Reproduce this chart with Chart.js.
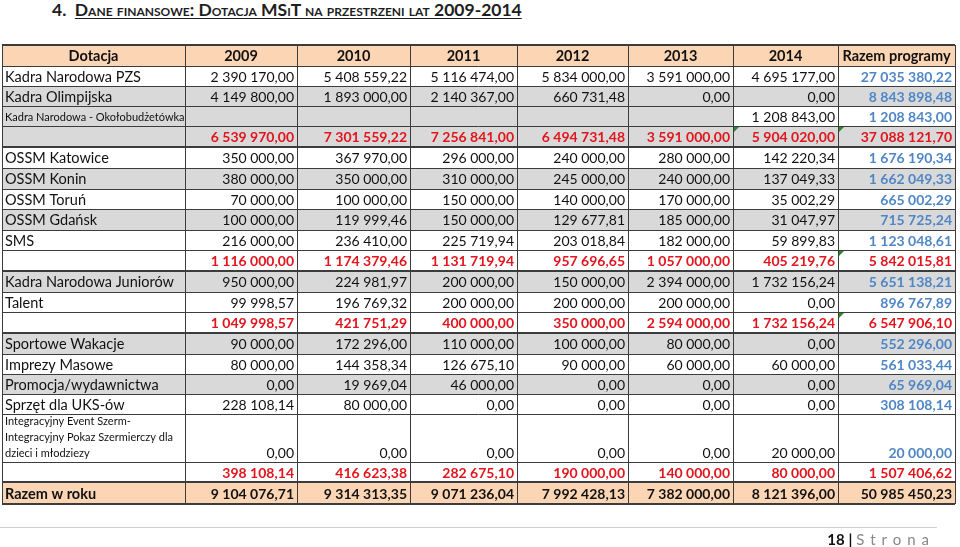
<!DOCTYPE html>
<html lang="pl">
<head>
<meta charset="utf-8">
<script src="https://cdn.jsdelivr.net/npm/chart.js@4.4.1/dist/chart.umd.min.js"></script>
<style>
  html, body { margin: 0; padding: 0; background: #fff; }
  #wrap { position: relative; width: 960px; height: 547px; overflow: hidden; }
  #tableChart { position: absolute; left: 0; top: 0; }
  #title { position: absolute; left: 52px; top: -1px; font: bold 17.5px Lato, sans-serif; color: #1e1e1e; white-space: nowrap; }
  #title .t { font-variant: small-caps; text-decoration: underline; text-underline-offset: 2px; }
  #footer { position: absolute; left: 0; top: 527px; width: 937px; border-top: 1px solid #d0d0d0; }
  #footer .txt { position: absolute; right: 2px; top: 2px; font: 15px Lato, sans-serif; color: #888; white-space: nowrap; }
  #footer b { color: #111; }
  #footer .bar { color: #111; font-weight: bold; }
  #footer .s { letter-spacing: 6px; }
</style>
</head>
<body>
<div id="wrap">
  <div id="title">4.&nbsp;&nbsp;<span class="t">Dane finansowe: Dotacja MSiT na przestrzeni lat 2009-2014</span></div>
  <canvas id="tableChart" width="960" height="547"></canvas>
  <div id="footer"><div class="txt"><b>18</b> <span class="bar">|</span> <span class="s">Strona</span></div></div>
</div>
<script>
// table data
const columnHeaders = ['Dotacja', '2009', '2010', '2011', '2012', '2013', '2014', 'Razem programy'];

const rowLabels = [
  'Kadra Narodowa PZS', 'Kadra Olimpijska', 'Kadra Narodowa - Okołobudżetówka', '',
  'OSSM Katowice', 'OSSM Konin', 'OSSM Toruń', 'OSSM Gdańsk', 'SMS', '',
  'Kadra Narodowa Juniorów', 'Talent', '',
  'Sportowe Wakacje', 'Imprezy Masowe', 'Promocja/wydawnictwa', 'Sprzęt dla UKS-ów',
  'Integracyjny Event Szerm-\nIntegracyjny Pokaz Szermierczy dla\ndzieci i młodziezy', '',
  'Razem w roku'
];

const y2009 = [2390170.00, 4149800.00, null, 6539970.00, 350000.00, 380000.00, 70000.00, 100000.00, 216000.00, 1116000.00,
  950000.00, 99998.57, 1049998.57, 90000.00, 80000.00, 0, 228108.14, 0, 398108.14, 9104076.71];
const y2010 = [5408559.22, 1893000.00, null, 7301559.22, 367970.00, 350000.00, 100000.00, 119999.46, 236410.00, 1174379.46,
  224981.97, 196769.32, 421751.29, 172296.00, 144358.34, 19969.04, 80000.00, 0, 416623.38, 9314313.35];
const y2011 = [5116474.00, 2140367.00, null, 7256841.00, 296000.00, 310000.00, 150000.00, 150000.00, 225719.94, 1131719.94,
  200000.00, 200000.00, 400000.00, 110000.00, 126675.10, 46000.00, 0, 0, 282675.10, 9071236.04];
const y2012 = [5834000.00, 660731.48, null, 6494731.48, 240000.00, 245000.00, 140000.00, 129677.81, 203018.84, 957696.65,
  150000.00, 200000.00, 350000.00, 100000.00, 90000.00, 0, 0, 0, 190000.00, 7992428.13];
const y2013 = [3591000.00, 0, null, 3591000.00, 280000.00, 240000.00, 170000.00, 185000.00, 182000.00, 1057000.00,
  2394000.00, 200000.00, 2594000.00, 80000.00, 60000.00, 0, 0, 0, 140000.00, 7382000.00];
const y2014 = [4695177.00, 0, 1208843.00, 5904020.00, 142220.34, 137049.33, 35002.29, 31047.97, 59899.83, 405219.76,
  1732156.24, 0, 1732156.24, 0, 60000.00, 0, 0, 20000.00, 80000.00, 8121396.00];
const razemProgramy = [27035380.22, 8843898.48, 1208843.00, 37088121.70, 1676190.34, 1662049.33, 665002.29, 715725.24, 1123048.61, 5842015.81,
  5651138.21, 896767.89, 6547906.10, 552296.00, 561033.44, 65969.04, 308108.14, 20000.00, 1507406.62, 50985450.23];

const yearColumns = [y2009, y2010, y2011, y2012, y2013, y2014, razemProgramy];

// row kinds: item, small (small label), sub (red subtotal), total
const rowKinds = ['item', 'item', 'small', 'sub', 'item', 'item', 'item', 'item', 'item', 'sub',
  'item', 'item', 'sub', 'item', 'item', 'item', 'item', 'small', 'sub', 'total'];

// layout
const colWidths = [183, 112, 113, 107, 111, 105, 105, 117];
const headerHeight = 21;
const rowHeights = [20, 20, 20, 21, 21, 21, 20, 21, 20, 21, 21, 20, 21, 21, 20, 20, 20, 48, 20, 22];
const rowFills = ['w', 'g', 'g', 'g', 'w', 'g', 'w', 'g', 'w', 'w', 'g', 'w', 'w', 'g', 'w', 'g', 'w', 'w', 'w', 'p'];
const thickBelow = [3, 9, 12, 18];
const warnCells = [[3, 6], [3, 7], [9, 7], [12, 7]];

const fills = { w: '#ffffff', g: '#d9d9d9', p: '#fcd5b4' };
const RED = '#e2141c';
const BLUE = '#4f86c6';
const INK = '#111111';
const GRID = '#3c3c3c';
const FONT = 'Lato, sans-serif';

const totalW = colWidths.reduce((a, b) => a + b, 0);
const totalH = headerHeight + rowHeights.reduce((a, b) => a + b, 0);

function fmt(v) {
  const parts = v.toFixed(2).split('.');
  return parts[0].replace(/\B(?=(\d{3})+(?!\d))/g, ' ') + ',' + parts[1];
}

const colEdges = [0];
colWidths.forEach(w => colEdges.push(colEdges[colEdges.length - 1] + w));
const rowEdges = [0, headerHeight];
rowHeights.forEach(h => rowEdges.push(rowEdges[rowEdges.length - 1] + h));

const tablePlugin = {
  id: 'tablePlugin',
  afterDraw(chart) {
    const { ctx, scales: { x, y } } = chart;
    const px = v => Math.round(x.getPixelForValue(v));
    const py = v => Math.round(y.getPixelForValue(v));
    ctx.save();

    // header background
    ctx.fillStyle = fills.p;
    ctx.fillRect(px(0), py(0), px(totalW) - px(0), py(headerHeight) - py(0));

    // row backgrounds
    rowLabels.forEach((lab, r) => {
      const top = py(rowEdges[r + 1]);
      const bot = py(rowEdges[r + 2]);
      for (let c = 0; c < colWidths.length; c++) {
        let f = fills[rowFills[r]];
        if (r === 2 && c >= 6) f = fills.w;
        ctx.fillStyle = f;
        ctx.fillRect(px(colEdges[c]), top, px(colEdges[c + 1]) - px(colEdges[c]), bot - top);
      }
    });

    // grid lines
    ctx.strokeStyle = GRID;
    for (let i = 0; i < rowEdges.length; i++) {
      const yy = py(rowEdges[i]);
      const thick = i === 0 || i === rowEdges.length - 1 || thickBelow.includes(i - 2);
      ctx.lineWidth = thick ? 2 : 1;
      ctx.beginPath();
      ctx.moveTo(px(0), yy + (thick ? 0 : 0.5));
      ctx.lineTo(px(totalW), yy + (thick ? 0 : 0.5));
      ctx.stroke();
    }
    ctx.lineWidth = 1;
    colEdges.forEach(ce => {
      const xx = px(ce) + 0.5;
      ctx.beginPath();
      ctx.moveTo(xx, py(0));
      ctx.lineTo(xx, py(totalH));
      ctx.stroke();
    });

    // warning triangles
    ctx.fillStyle = '#2a8a2a';
    warnCells.forEach(([r, c]) => {
      const x0 = px(colEdges[c]) + 1;
      const y0 = py(rowEdges[r + 1]) + 1;
      ctx.beginPath();
      ctx.moveTo(x0, y0);
      ctx.lineTo(x0 + 5, y0);
      ctx.lineTo(x0, y0 + 5);
      ctx.closePath();
      ctx.fill();
    });

    // header text
    ctx.textBaseline = 'middle';
    ctx.textAlign = 'center';
    ctx.fillStyle = INK;
    ctx.font = 'bold 14.5px ' + FONT;
    const hy = (py(0) + py(headerHeight)) / 2 + 1;
    columnHeaders.forEach((h, c) => {
      ctx.fillText(h, (px(colEdges[c]) + px(colEdges[c + 1])) / 2, hy);
    });

    // body text
    rowLabels.forEach((lab, r) => {
      const kind = rowKinds[r];
      const top = py(rowEdges[r + 1]);
      const bot = py(rowEdges[r + 2]);
      const tall = bot - top > 30;
      const cy = tall ? bot - 9 : (top + bot) / 2 + 1;

      ctx.textAlign = 'left';
      ctx.fillStyle = INK;
      if (kind === 'small') {
        ctx.font = '11px ' + FONT;
        const lines = lab.split('\n');
        lines.forEach((ln, i) => {
          const ly = tall ? bot - 9 - (lines.length - 1 - i) * 16 : cy;
          ctx.fillText(ln, px(colEdges[0]) + 3, ly);
        });
      } else if (lab) {
        ctx.font = (kind === 'total' ? 'bold ' : '') + '14.5px ' + FONT;
        ctx.fillText(lab, px(colEdges[0]) + 3, cy);
      }

      ctx.textAlign = 'right';
      yearColumns.forEach((col, k) => {
        const v = col[r];
        if (v === null) return;
        const c = k + 1;
        let color = INK, weight = '';
        if (kind === 'sub') { color = RED; weight = 'bold '; }
        else if (kind === 'total') { color = INK; weight = 'bold '; }
        else if (k === 6) { color = BLUE; weight = 'bold '; }
        ctx.fillStyle = color;
        ctx.font = weight + '14px ' + FONT;
        ctx.fillText(fmt(v), px(colEdges[c + 1]) - 3, cy);
      });
    });

    ctx.restore();
  }
};

new Chart(document.getElementById('tableChart'), {
  type: 'scatter',
  data: { datasets: [] },
  options: {
    responsive: false,
    animation: false,
    layout: { padding: { left: 2, top: 45, right: 5, bottom: 43 } },
    plugins: { legend: { display: false }, tooltip: { enabled: false } },
    scales: {
      x: { type: 'linear', display: false, min: 0, max: totalW },
      y: { type: 'linear', display: false, min: 0, max: totalH, reverse: true }
    }
  },
  plugins: [tablePlugin]
});
</script>
</body>
</html>
